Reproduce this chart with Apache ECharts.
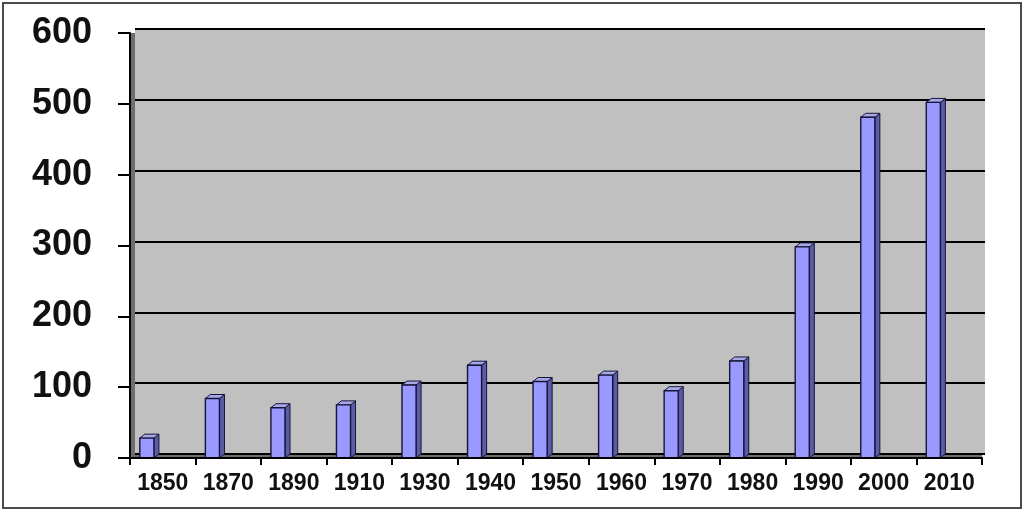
<!DOCTYPE html>
<html>
<head>
<meta charset="utf-8">
<script src="https://cdn.jsdelivr.net/npm/echarts@6/dist/echarts.min.js"></script>
<style>
html,body{margin:0;padding:0;background:#fff;}
#chart{width:1024px;height:513px;position:absolute;left:0;top:0;}
#frame{position:absolute;left:2px;top:2px;width:1016px;height:503px;border:2px solid #4a4a4a;pointer-events:none;}
</style>
</head>
<body>
<div id="chart"></div>
<div id="frame"></div>
<script>
const categories = ['1850','1870','1890','1910','1930','1940','1950','1960','1970','1980','1990','2000','2010'];
const values = [28, 84, 71, 75, 103, 131, 108, 117, 95, 137, 298, 481, 502];
const yTicks = [0, 100, 200, 300, 400, 500, 600];

const chart = echarts.init(document.getElementById('chart'));

function renderBar(params, api) {
  const idx = api.value(0);
  const val = api.value(1);
  const top = api.coord([idx, val]);
  const base = api.coord([idx, 0]);
  const band = api.size([1, 0])[0];
  const w = band * 0.215;
  const x0 = top[0] - band * 0.35;
  const x1 = x0 + w;
  const dx = 5, dy = 4;
  const yT = top[1], yB = base[1];
  const stroke = '#15153a';
  return {
    type: 'group',
    children: [
      { type: 'polygon', shape: { points: [[x1, yT], [x1 + dx, yT - dy], [x1 + dx, yB - dy], [x1, yB]] },
        style: { fill: '#5c5ca6', stroke: stroke, lineWidth: 1 } },
      { type: 'polygon', shape: { points: [[x0, yT], [x0 + dx, yT - dy], [x1 + dx, yT - dy], [x1, yT]] },
        style: { fill: '#a8a8e6', stroke: stroke, lineWidth: 1 } },
      { type: 'rect', shape: { x: x0, y: yT, width: w, height: yB - yT },
        style: { fill: '#9999ff', stroke: stroke, lineWidth: 1.4 } }
    ]
  };
}

chart.setOption({
  animation: false,
  backgroundColor: '#ffffff',
  grid: [
    { left: 130, right: 42, top: 33, bottom: 55, show: true, backgroundColor: '#6e6e6e', borderWidth: 0, z: 0 },
    { left: 135, right: 39, top: 29, bottom: 59, show: true, backgroundColor: '#c0c0c0', borderWidth: 0, z: 1 }
  ],
  xAxis: [
    { type: 'category', gridIndex: 0, data: categories, boundaryGap: true, z: 10,
      axisLine: { show: true, lineStyle: { color: '#000', width: 2 } },
      axisTick: { show: true, length: 7, alignWithLabel: false, lineStyle: { color: '#000', width: 2 } },
      axisLabel: { interval: 0, hideOverlap: false, margin: 14, color: '#111', fontSize: 23, fontWeight: 'bold',
        fontFamily: '"Liberation Sans", Arial, sans-serif' } },
    { type: 'category', gridIndex: 1, data: categories, show: false }
  ],
  yAxis: [
    { type: 'value', gridIndex: 0, min: 0, max: 600, interval: 100, z: 10,
      axisLine: { show: true, lineStyle: { color: '#000', width: 2 } },
      axisTick: { show: true, length: 12, lineStyle: { color: '#000', width: 2 } },
      splitLine: { show: false },
      axisLabel: { margin: 38, color: '#111', fontSize: 36, fontWeight: 'bold',
        fontFamily: '"Liberation Sans", Arial, sans-serif',
        formatter: v => yTicks.includes(v) ? String(v) : '' } },
    { type: 'value', gridIndex: 1, min: 0, max: 600, interval: 100, z: 3,
      axisLine: { show: false }, axisTick: { show: false }, axisLabel: { show: false },
      splitLine: { show: true, lineStyle: { color: '#000', width: 2 } } }
  ],
  series: [
    { type: 'custom', xAxisIndex: 0, yAxisIndex: 0, z: 5,
      renderItem: renderBar,
      encode: { x: 0, y: 1 },
      data: values.map((v, i) => [i, v]) }
  ]
});
</script>
</body>
</html>
